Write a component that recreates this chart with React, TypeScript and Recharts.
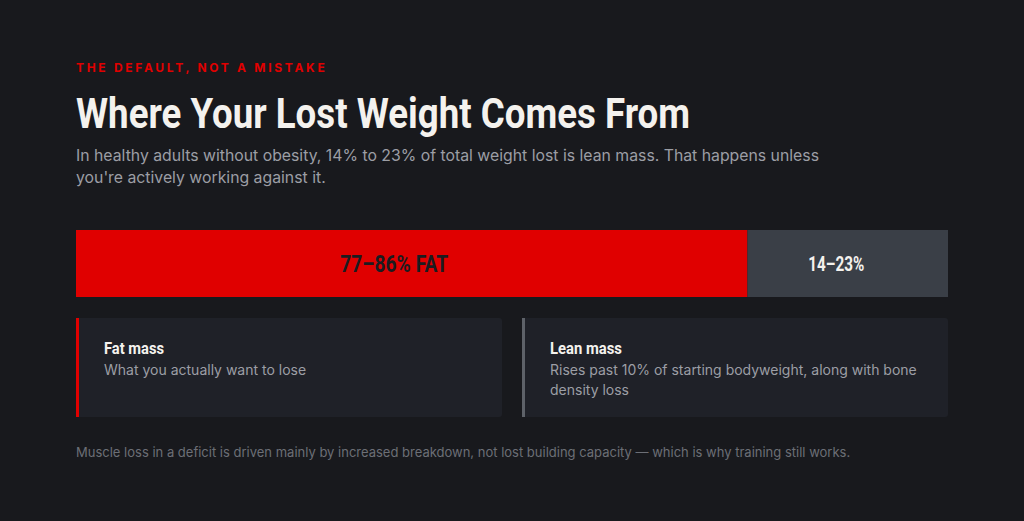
import { Bar, BarChart, LabelList, XAxis, YAxis } from "recharts";

// share of total weight lost (lower bound of fat, upper bound of lean)
const categories = ["Weight lost"];
const fatShare = [77];
const leanShare = [23];
const fatLabel = "77–86% FAT";
const leanLabel = "14–23%";

const data = categories.map((name, i) => ({ name, fat: fatShare[i], lean: leanShare[i] }));

const NARROW = "Roboto, 'DejaVu Sans Condensed', sans-serif";
const BODY = "Inter, 'Noto Sans', sans-serif";

// condensed-looking text: squeeze a bold face to a given width
function NarrowSvg({
  text,
  left,
  top,
  width,
  height,
  baseline,
  size,
  color,
}: {
  text: string;
  left: number;
  top: number;
  width: number;
  height: number;
  baseline: number;
  size: number;
  color: string;
}) {
  return (
    <svg
      width={width + 4}
      height={height}
      style={{ position: "absolute", left, top, overflow: "visible" }}
    >
      <text
        x={0}
        y={baseline}
        fill={color}
        fontFamily={NARROW}
        fontWeight={700}
        fontSize={size}
        textLength={width}
        lengthAdjust="spacingAndGlyphs"
      >
        {text}
      </text>
    </svg>
  );
}

// label text sits a little left of the segment centre
function barLabel(text: string, width: number, size: number, color: string, shift: number) {
  return (props: any) => {
    const cx = Number(props.x) + Number(props.width) / 2 + shift;
    const base = Number(props.y) + Number(props.height) / 2 + size * 0.36;
    return (
      <text
        x={cx - width / 2}
        y={base}
        fill={color}
        fontFamily={NARROW}
        fontWeight={700}
        fontSize={size}
        textLength={width}
        lengthAdjust="spacingAndGlyphs"
      >
        {text}
      </text>
    );
  };
}

export default function App() {
  return (
    <div
      style={{
        position: "fixed",
        left: 0,
        top: 0,
        width: 1024,
        height: 521,
        background: "#18191d",
        fontFamily: BODY,
        overflow: "hidden",
      }}
    >
      <div
        style={{
          position: "absolute",
          left: 76,
          top: 60,
          color: "#e00000",
          fontFamily: BODY,
          fontWeight: 700,
          fontSize: 12,
          letterSpacing: 2.7,
        }}
      >
        THE DEFAULT, NOT A MISTAKE
      </div>
      <NarrowSvg
        text="Where Your Lost Weight Comes From"
        left={76}
        top={88}
        width={614}
        height={50}
        baseline={40}
        size={43}
        color="#f4f2ee"
      />
      <div
        style={{
          position: "absolute",
          left: 76,
          top: 145,
          width: 760,
          color: "#9c9ea5",
          fontSize: 15.8,
          lineHeight: "22px",
        }}
      >
        In healthy adults without obesity, 14% to 23% of total weight lost is lean mass. That happens unless
        you're actively working against it.
      </div>

      <div style={{ position: "absolute", left: 76, top: 230 }}>
        <BarChart
          width={872}
          height={67}
          data={data}
          layout="vertical"
          margin={{ top: 0, right: 0, bottom: 0, left: 0 }}
          barCategoryGap={0}
        >
          <XAxis type="number" domain={[0, 100]} hide />
          <YAxis type="category" dataKey="name" hide />
          <Bar dataKey="fat" stackId="a" fill="#e00000" isAnimationActive={false}>
            <LabelList dataKey="fat" content={barLabel(fatLabel, 108, 23, "#1b1c20", -17.5)} />
          </Bar>
          <Bar dataKey="lean" stackId="a" fill="#3a3f47" isAnimationActive={false}>
            <LabelList dataKey="lean" content={barLabel(leanLabel, 56, 20, "#f4f2ee", -11.5)} />
          </Bar>
        </BarChart>
      </div>

      <Card
        left={76}
        accent="#e00000"
        title="Fat mass"
        titleWidth={60}
        text="What you actually want to lose"
      />
      <Card
        left={522}
        accent="#5e6269"
        title="Lean mass"
        titleWidth={72}
        text="Rises past 10% of starting bodyweight, along with bone density loss"
      />

      <div
        style={{
          position: "absolute",
          left: 76,
          top: 443,
          color: "#6c6f76",
          fontSize: 13,
          lineHeight: "18px",
        }}
      >
        Muscle loss in a deficit is driven mainly by increased breakdown, not lost building capacity — which is why
        training still works.
      </div>
    </div>
  );
}

function Card({
  left,
  accent,
  title,
  titleWidth,
  text,
}: {
  left: number;
  accent: string;
  title: string;
  titleWidth: number;
  text: string;
}) {
  return (
    <div
      style={{
        position: "absolute",
        left,
        top: 318,
        width: 426,
        height: 99,
        boxSizing: "border-box",
        background: "#1f2128",
        borderLeft: `3px solid ${accent}`,
        borderRadius: "0 3px 3px 0",
      }}
    >
      <NarrowSvg
        text={title}
        left={25}
        top={20}
        width={titleWidth}
        height={22}
        baseline={16}
        size={17}
        color="#f4f2ee"
      />
      <div
        style={{
          position: "absolute",
          left: 25,
          top: 42,
          width: 380,
          color: "#9c9ea5",
          fontSize: 14,
          lineHeight: "20px",
        }}
      >
        {text}
      </div>
    </div>
  );
}
